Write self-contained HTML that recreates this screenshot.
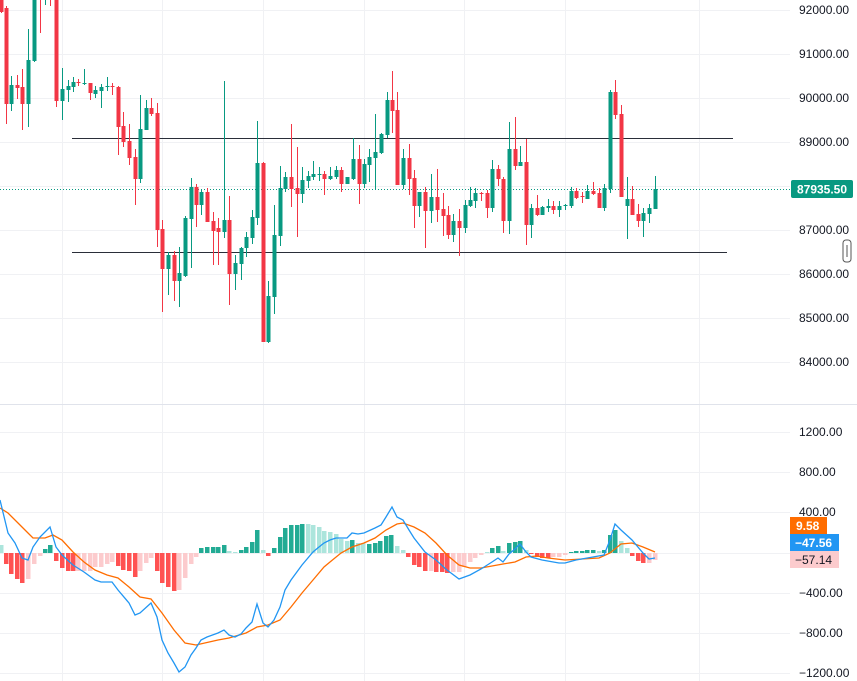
<!DOCTYPE html>
<html><head><meta charset="utf-8"><style>
html,body{margin:0;padding:0;background:#fff;}
svg{display:block;font-family:"Liberation Sans",sans-serif;}
</style></head><body>
<svg id="s" width="857" height="681" xmlns="http://www.w3.org/2000/svg">
<g id="grid" stroke="#f0f1f4" stroke-width="1"></g>
<line x1="0" y1="404.5" x2="857" y2="404.5" stroke="#e0e3eb"/>
<line x1="72" y1="138.5" x2="733" y2="138.5" stroke="#2a2e39" stroke-width="1"/>
<line x1="72" y1="252.5" x2="727" y2="252.5" stroke="#2a2e39" stroke-width="1"/>
<line x1="0" y1="189.5" x2="790" y2="189.5" stroke="#089981" stroke-width="1" stroke-dasharray="1,2"/>
<g id="c"></g>
<g id="h"></g>
<polyline id="sig" fill="none" stroke="#ff6d00" stroke-width="1.3"/>
<polyline id="mac" fill="none" stroke="#2196f3" stroke-width="1.3"/>
<g id="lab" font-size="12" fill="#131722"></g>
<rect x="791" y="180" width="62" height="18" rx="2" fill="#089981"/>
<text x="822" y="193.5" font-size="12" fill="#fff" text-anchor="middle" font-weight="bold">87935.50</text>
<rect x="843" y="240" width="8" height="22" rx="3" fill="#fff" stroke="#555" stroke-width="1"/>
<line x1="847" y1="245" x2="847" y2="257" stroke="#555"/>
<rect x="790" y="517" width="37" height="17" fill="#ff6d00"/>
<text x="796" y="530" font-size="12" fill="#fff" font-weight="bold">9.58</text>
<rect x="790" y="534" width="49" height="17" fill="#2196f3"/>
<text x="795" y="547" font-size="12" fill="#fff" font-weight="bold">−47.56</text>
<rect x="790" y="551" width="49" height="17" fill="#fccbcd"/>
<text x="795" y="564" font-size="12" fill="#131722">−57.14</text>
</svg>
<script>
var NS="http://www.w3.org/2000/svg";
function el(p,t,a){var e=document.createElementNS(NS,t);for(var k in a)e.setAttribute(k,a[k]);p.appendChild(e);return e;}
var g=document.getElementById('grid');
[62,162,263,364,464,565,699].forEach(function(x){el(g,'line',{x1:x+.5,y1:0,x2:x+.5,y2:681});});
var py=[10,54,98,142,186,230,274,318,362],pl=["92000.00","91000.00","90000.00","89000.00","88000.00","87000.00","86000.00","85000.00","84000.00"];
var my=[432,472,512,553,593,633,673],ml=["1200.00","800.00","400.00","","−400.00","−800.00","−1200.00"];
var lab=document.getElementById('lab');
py.forEach(function(y,i){el(g,'line',{x1:0,y1:y+.5,x2:790,y2:y+.5});var t=el(lab,'text',{x:799,y:y+4});t.textContent=pl[i];});
my.forEach(function(y,i){el(g,'line',{x1:0,y1:y+.5,x2:790,y2:y+.5});if(ml[i]){var t=el(lab,'text',{x:799,y:y+4});t.textContent=ml[i];}});
var C=[[1,0,0,0,12,13],[6,0,6,8,104,124],[11,1,76,85,104,111],[17,0,75,85,88,99],[22,0,69,87,104,130],[28,1,29,60,104,127],[34,1,-5,-5,61,62],[40,0,-5,-5,-1,33],[45,1,-5,-5,-1,5],[50,0,-5,-5,-1,6],[56,0,-5,-5,101,107],
[62,1,68,89,101,120],[68,1,80,86,90,102],[73,1,77,82,87,92],[78,0,79,82,83,86],[84,1,69,83,84,85],[90,0,83,83,93,100],[95,1,86,90,94,98],[101,1,84,87,91,108],[107,1,77,86,87,91],[112,0,83,86,87,95],
[118,0,86,87,127,155],[123,0,112,126,142,147],[129,0,124,141,158,165],[135,0,149,157,179,205],[140,1,95,129,179,183],[146,1,100,108,130,130],[151,0,98,108,114,116],[157,0,103,113,230,247],[162,0,220,229,269,312],[168,1,252,255,269,295],
[174,0,251,255,281,301],[179,1,247,273,281,307],[185,1,216,218,276,277],[191,1,178,187,219,268],[196,0,184,187,205,227],[201,1,189,192,205,215],[207,0,188,192,222,222],[213,0,212,221,231,265],[218,0,218,228,232,265],[224,1,81,220,232,238],
[229,0,196,220,274,305],[235,1,255,263,274,290],[241,1,247,248,264,280],[246,1,232,237,248,257],[252,1,210,217,238,244],[257,1,121,163,218,225],[263,0,162,163,342,342],[268,1,281,296,342,343],[274,1,205,235,297,314],[280,1,166,188,236,246],
[285,1,172,177,189,192],[291,0,124,177,189,207],[297,0,147,188,194,237],[302,1,167,180,194,203],[308,1,171,176,181,188],[313,1,161,174,177,180],[319,1,167,174,175,181],[324,0,171,174,179,195],
[330,1,167,176,179,180],[336,1,166,170,177,179],[341,0,167,170,184,192],[347,1,177,177,184,184],[353,1,138,159,179,180],[359,0,145,159,184,204],[364,1,159,164,184,188],[369,1,149,157,165,182],[375,1,114,152,158,189],[381,1,133,134,153,154],
[387,1,92,100,135,138],[392,0,71,100,111,133],[397,0,92,110,185,185],[403,1,149,158,185,189],[409,0,144,158,179,195],[414,0,170,178,206,228],[419,1,192,192,206,217],[425,0,187,192,211,248],[431,1,174,197,211,223],[437,0,169,197,210,222],
[443,0,193,209,216,236],[448,0,206,215,235,239],[453,1,214,221,235,242],[459,0,209,221,228,256],[465,1,200,205,228,233],[470,1,187,200,206,207],[475,1,188,193,201,208],[481,0,192,193,194,201],[487,0,190,193,208,218],[492,1,160,169,208,212],
[498,0,165,169,179,186],[503,0,177,179,221,233],[509,1,122,149,221,234],[515,0,117,149,166,170],[520,1,146,162,166,166],[526,0,139,162,225,245],[531,1,204,208,225,238],[537,0,195,208,215,216],[542,1,206,207,215,215],[548,1,199,206,208,212],
[553,0,201,206,210,214],[559,1,201,206,210,217],[565,1,204,205,206,210],[571,1,187,191,206,208],[576,0,188,191,198,199],[582,0,192,196,197,203],[587,1,185,191,199,199],[593,0,182,191,194,195],[599,0,188,193,208,208],[604,1,184,188,208,211],
[610,1,90,92,189,193],[615,0,80,92,115,119],[621,0,105,114,197,197],[627,1,177,199,206,239],[632,0,186,199,215,215],[638,0,204,214,221,227],[643,1,208,213,221,237],[649,1,204,208,214,223],[655,1,176,189,209,209]];
var cg=document.getElementById('c');
C.forEach(function(d){var col=d[1]?'#089981':'#f23645';
el(cg,'line',{x1:d[0]+.5,y1:d[2],x2:d[0]+.5,y2:d[5],stroke:col,'stroke-width':1});
el(cg,'rect',{x:d[0]-1.5,y:d[3],width:4,height:Math.max(1,d[4]-d[3]),fill:col});});
var H=[[1,545,'l'],[6,564,'r'],[11,574,'r'],[17,579,'r'],[22,583,'r'],[28,579,'p'],[34,564,'p'],[40,556,'p'],[45,549,'g'],[50,545,'g'],[56,561,'r'],[62,568,'r'],[68,571,'r'],[73,571,'r'],[78,571,'p'],[84,571,'p'],[90,571,'p'],[95,567,'p'],[101,567,'p'],[107,564,'p'],[112,562,'p'],[118,566,'r'],[123,570,'r'],[129,571,'r'],[135,577,'r'],[140,571,'p'],[146,563,'p'],[151,558,'p'],[157,571,'r'],[162,583,'r'],[168,587,'r'],[174,591,'r'],[179,590,'p'],[185,578,'p'],[191,564,'p'],[196,557,'p'],[201,548,'g'],[207,547,'g'],[213,547,'g'],[218,547,'g'],[224,545,'g'],[229,551,'l'],[235,552,'l'],[241,550,'g'],[246,547,'g'],[252,542,'g'],[257,530,'g'],[263,550,'l'],[268,556,'r'],[274,548,'g'],[280,537,'g'],[285,528,'g'],[291,525,'g'],[297,525,'g'],[302,524,'g'],[308,524,'l'],[313,525,'l'],[319,527,'l'],[324,531,'l'],
[330,532,'l'],[336,534,'l'],[341,539,'l'],[347,541,'l'],[352,540,'g'],[358,543,'l'],[363,543,'l'],[369,544,'g'],[375,543,'g'],[380,541,'g'],[386,536,'g'],[391,535,'g'],[397,546,'l'],[403,550,'l'],[408,557,'r'],[414,565,'r'],[419,567,'r'],[425,571,'r'],[431,571,'p'],[436,572,'r'],[442,572,'r'],[447,573,'r'],[453,572,'p'],[459,572,'p'],[464,567,'p'],[470,562,'p'],[475,558,'p'],[481,555,'p'],[487,552,'l'],[492,548,'g'],[498,546,'g'],[503,551,'l'],[509,543,'g'],[515,542,'g'],[520,541,'g'],[526,550,'l'],[531,554,'r'],[537,557,'r'],[542,558,'r'],[548,558,'r'],[553,557,'p'],[559,557,'p'],[565,555,'p'],[571,552,'g'],[576,551,'g'],[582,551,'g'],[587,550,'g'],[593,550,'g'],[599,551,'l'],[604,550,'g'],[610,535,'g'],[615,530,'g'],[621,541,'l'],[627,548,'l'],[632,556,'r'],[638,561,'r'],[643,563,'r'],[649,563,'p'],[655,560,'p']];
var hc={g:'#22ab94',l:'#ace5dc',r:'#ff5252',p:'#fccbcd'};
var hg=document.getElementById('h');var z=553;
H.forEach(function(d){var y1=Math.min(d[1],z),y2=Math.max(d[1],z);el(hg,'rect',{x:d[0]-2,y:y1,width:4.5,height:Math.max(1,y2-y1),fill:hc[d[2]]});});
var M="0,500 8,533 15,543 22,558 28,560 33,547 40,537 50,527 56,547 62,555 73,565 84,572 95,580 101,582 112,582 118,590 129,603 135,615 140,613 151,603 157,617 162,640 168,653 174,663 179,672 185,667 191,655 196,648 201,640 207,637 218,633 224,630 229,635 235,637 241,634 246,628 252,622 257,604 263,623 268,627 274,620 280,607 285,590 291,580 302,565 313,552 319,547 324,543 330,540 336,538 347,538 352,533 358,534 364,533 375,528 381,525 386,517 392,507 397,517 403,520 409,530 414,538 425,552 436,560 447,570 459,579 470,575 481,569 492,562 498,558 503,562 509,554 515,549 520,544 526,552 531,557 542,560 559,563 565,563 576,560 593,557 604,555 610,540 615,524 621,530 632,540 643,553 649,559 655,558";
var S="0,508 8,513 17,522 28,533 33,538 45,538 53,535 62,540 73,552 84,562 95,570 107,575 118,578 129,587 140,597 151,599 162,613 174,630 185,643 196,645 218,640 229,638 246,633 257,627 268,625 280,620 291,607 302,593 313,580 324,567 330,562 341,553 352,547 364,543 375,538 386,530 397,524 403,523 414,527 425,533 436,543 447,555 459,565 470,568 481,568 492,566 503,564 515,562 526,557 537,556 548,558 565,560 582,559 599,558 610,553 621,544 632,543 643,547 655,552";
document.getElementById('mac').setAttribute('points',M);
document.getElementById('sig').setAttribute('points',S);
</script>
</body></html>
